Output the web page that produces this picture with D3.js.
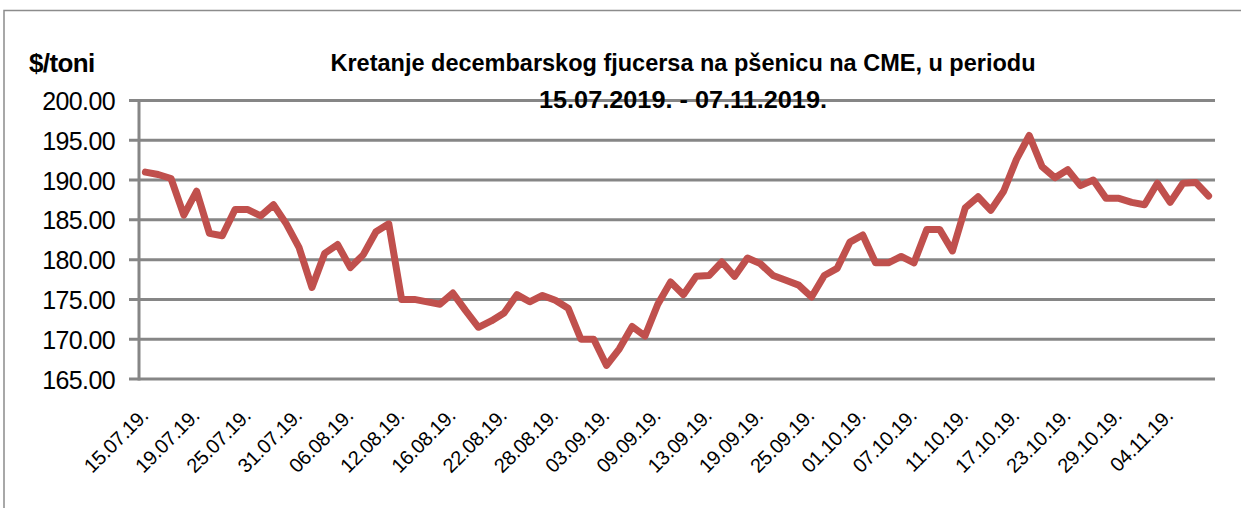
<!DOCTYPE html>
<html>
<head>
<meta charset="utf-8">
<script src="https://cdn.jsdelivr.net/npm/d3@7"></script>
<style>
  body { margin: 0; background: #fff; }
  text { font-family: "Liberation Sans", Arial, sans-serif; fill: #000; }
</style>
</head>
<body>
<div id="container"></div>
<script>
let w = 1241;
let h = 508;

// trading days shown on the chart
let dates = [
  "15.07.19.","16.07.19.","17.07.19.","18.07.19.","19.07.19.","22.07.19.","23.07.19.","24.07.19.","25.07.19.","26.07.19.","29.07.19.","30.07.19.","31.07.19.",
  "01.08.19.","02.08.19.","05.08.19.","06.08.19.","07.08.19.","08.08.19.","09.08.19.","12.08.19.","13.08.19.","14.08.19.","15.08.19.","16.08.19.","19.08.19.","20.08.19.","21.08.19.","22.08.19.","23.08.19.","26.08.19.","27.08.19.","28.08.19.","29.08.19.","30.08.19.",
  "02.09.19.","03.09.19.","04.09.19.","05.09.19.","06.09.19.","09.09.19.","10.09.19.","11.09.19.","12.09.19.","13.09.19.","16.09.19.","17.09.19.","18.09.19.","19.09.19.","20.09.19.","23.09.19.","24.09.19.","25.09.19.","26.09.19.","27.09.19.","30.09.19.",
  "01.10.19.","02.10.19.","03.10.19.","04.10.19.","07.10.19.","08.10.19.","09.10.19.","10.10.19.","11.10.19.","14.10.19.","15.10.19.","16.10.19.","17.10.19.","18.10.19.","21.10.19.","22.10.19.","23.10.19.","24.10.19.","25.10.19.","28.10.19.","29.10.19.","30.10.19.","31.10.19.",
  "01.11.19.","04.11.19.","05.11.19.","06.11.19.","07.11.19."
];

// $/toni
let prices = [
  191.0,190.7,190.2,185.6,188.6,183.3,183.0,186.3,186.3,185.5,186.9,184.5,181.5,
  176.5,180.8,181.9,179.0,180.6,183.5,184.5,175.0,175.0,174.7,174.4,175.8,173.6,171.5,172.3,173.3,175.6,174.7,175.5,174.9,173.9,170.0,
  170.0,166.7,168.8,171.6,170.4,174.4,177.2,175.6,177.9,178.0,179.7,177.9,180.2,179.5,178.0,177.4,176.8,175.3,178.0,178.9,182.2,
  183.1,179.6,179.6,180.4,179.6,183.8,183.8,181.1,186.5,187.9,186.2,188.6,192.6,195.6,191.7,190.3,191.3,189.3,190.0,187.7,187.7,187.2,186.9,
  189.6,187.2,189.6,189.7,188.0
];

let yTicks = [165, 170, 175, 180, 185, 190, 195, 200];
let labelEvery = 4;

let titleLines = ["Kretanje decembarskog fjucersa na pšenicu na CME, u periodu", "15.07.2019. - 07.11.2019."];
let unitLabel = "$/toni";

let viz = d3.select("#container")
  .append("svg")
    .attr("width", w)
    .attr("height", h)
;

// outer frame
viz.append("rect")
  .attr("x", 4).attr("y", 10.5)
  .attr("width", w + 10).attr("height", h + 10)
  .attr("fill", "none")
  .attr("stroke", "#8c8c8c")
  .attr("stroke-width", 1.5);

let left = 139, right = 1215;
let xScale = d3.scalePoint().domain(dates).range([left, right]).padding(0.5);
let yScale = d3.scaleLinear().domain([165, 200]).range([379, 100.5]);

// grid
viz.append("g").attr("class", "grid")
  .selectAll("line").data(yTicks).join("line")
    .attr("x1", left - 10).attr("x2", right)
    .attr("y1", d => yScale(d)).attr("y2", d => yScale(d))
    .attr("stroke", "#868686")
    .attr("stroke-width", 3);

// y axis
let yAxis = d3.axisLeft(yScale).tickValues(yTicks).tickSize(0).tickPadding(24)
  .tickFormat(d3.format(".2f"));
let yAxisGroup = viz.append("g").attr("class", "yaxis")
  .attr("transform", "translate(" + left + ",0)")
  .call(yAxis);
yAxisGroup.select(".domain").remove();
yAxisGroup.selectAll("text")
  .style("font-size", "25px")
  .style("letter-spacing", "-0.6px")
  .attr("dy", "0.36em");

viz.append("line")
  .attr("x1", left).attr("x2", left)
  .attr("y1", yScale(200) - 1.5).attr("y2", yScale(165) + 1.5)
  .attr("stroke", "#868686").attr("stroke-width", 3);

// x axis labels
let xAxis = d3.axisBottom(xScale)
  .tickValues(dates.filter((d, i) => i % labelEvery === 0))
  .tickSize(0);
let xAxisGroup = viz.append("g").attr("class", "xaxis")
  .call(xAxis);
xAxisGroup.select(".domain").remove();
xAxisGroup.selectAll(".tick").attr("transform", d => "translate(" + (xScale(d) + 4) + ",417)");
xAxisGroup.selectAll("text")
  .attr("y", 0).attr("dy", 0)
  .attr("text-anchor", "end")
  .attr("transform", "rotate(-45)")
  .style("font-size", "20px")
  .style("letter-spacing", "-0.3px");

// the line
let line = d3.line()
  .x((d, i) => xScale(dates[i]))
  .y(d => yScale(d));

viz.append("path")
  .datum(prices)
  .attr("d", line)
  .attr("fill", "none")
  .attr("stroke", "#c0504d")
  .attr("stroke-width", 7)
  .attr("stroke-linejoin", "round")
  .attr("stroke-linecap", "round");

// titles
viz.append("text")
  .attr("x", 29).attr("y", 72)
  .style("font-size", "26px").style("font-weight", "bold")
  .style("letter-spacing", "-0.6px")
  .text(unitLabel);

let titleWidths = [705, 288];
viz.selectAll(".title").data(titleLines).join("text")
  .attr("class", "title")
  .attr("x", 683)
  .attr("y", (d, i) => 71 + i * 37)
  .attr("text-anchor", "middle")
  .attr("textLength", (d, i) => titleWidths[i])
  .attr("lengthAdjust", "spacingAndGlyphs")
  .style("font-size", "23px").style("font-weight", "bold")
  .text(d => d);
</script>
</body>
</html>
